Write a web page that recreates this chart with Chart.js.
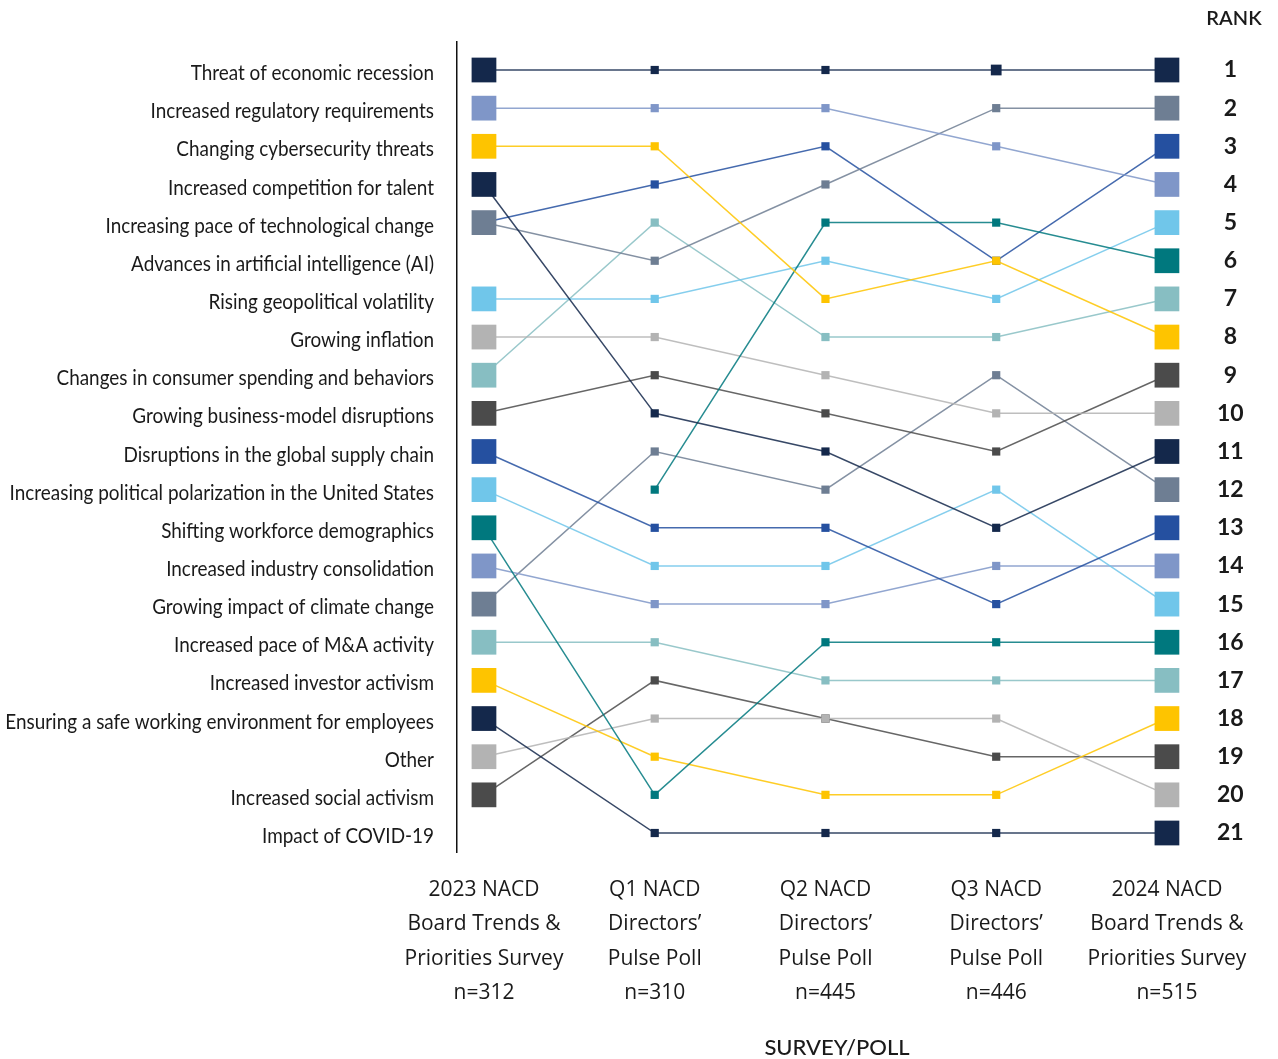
<!DOCTYPE html>
<html>
<head>
<meta charset="utf-8">
<title>Board Trends ranking</title>
<script src="https://cdn.jsdelivr.net/npm/chart.js@4.4.1/dist/chart.umd.min.js"></script>
<style>
  html, body { margin: 0; padding: 0; background: #fff; }
  #wrap { width: 1278px; height: 1059px; position: relative; }
</style>
</head>
<body>
<div id="wrap"><canvas id="rankChart"></canvas></div>
<script>
// rank labels shown on the left (rank 1..21)
const topicLabels = [
    'Threat of economic recession',
    'Increased regulatory requirements',
    'Changing cybersecurity threats',
    'Increased competition for talent',
    'Increasing pace of technological change',
    'Advances in artificial intelligence (AI)',
    'Rising geopolitical volatility',
    'Growing inflation',
    'Changes in consumer spending and behaviors',
    'Growing business-model disruptions',
    'Disruptions in the global supply chain',
    'Increasing political polarization in the United States',
    'Shifting workforce demographics',
    'Increased industry consolidation',
    'Growing impact of climate change',
    'Increased pace of M&A activity',
    'Increased investor activism',
    'Ensuring a safe working environment for employees',
    'Other',
    'Increased social activism',
    'Impact of COVID-19'
];

const surveyLabels = [
    ['2023 NACD', 'Board Trends &', 'Priorities Survey', 'n=312'],
    ['Q1 NACD', 'Directors\u2019', 'Pulse Poll', 'n=310'],
    ['Q2 NACD', 'Directors\u2019', 'Pulse Poll', 'n=445'],
    ['Q3 NACD', 'Directors\u2019', 'Pulse Poll', 'n=446'],
    ['2024 NACD', 'Board Trends &', 'Priorities Survey', 'n=515']
];

const rankTicks = ['1','2','3','4','5','6','7','8','9','10','11','12','13','14','15','16','17','18','19','20','21'];

// one line per topic (last one is the unlabeled dark blue line)
const lineNames = [
    'Threat of economic recession', 'Increased regulatory requirements', 'Changing cybersecurity threats',
    'Increased competition for talent', 'Increasing pace of technological change', 'Advances in artificial intelligence (AI)',
    'Rising geopolitical volatility', 'Growing inflation', 'Changes in consumer spending and behaviors',
    'Growing business-model disruptions', 'Disruptions in the global supply chain',
    'Increasing political polarization in the United States', 'Shifting workforce demographics',
    'Increased industry consolidation', 'Growing impact of climate change', 'Increased pace of M&A activity',
    'Increased investor activism', 'Ensuring a safe working environment for employees', 'Other',
    'Increased social activism', 'Unlabeled'
];
const rank2023 = [1, 2, 3, 4, 5, null, 7, 8, 9, 10, 11, 12, 13, 14, 15, 16, 17, 18, 19, 20, 5];
const rankQ1   = [1, 2, 3, 10, 6, 12, 7, 8, 5, 9, 13, 14, 20, 15, 11, 16, 19, 21, 18, 17, 4];
const rankQ2   = [1, 2, 7, 11, 4, 5, 6, 9, 8, 10, 13, 14, 16, 15, 12, 17, 20, 21, 18, 18, 3];
const rankQ3   = [1, 3, 6, 13, 2, 5, 7, 10, 8, 11, 15, 12, 16, 14, 9, 17, 20, 21, 18, 19, 6];
const rank2024 = [1, 4, 8, 11, 2, 6, 5, 10, 7, 9, 13, 15, 16, 14, 12, 17, 18, 21, 20, 19, 3];

const NAVY = '#14284b', PERI = '#7f96c8', YELLOW = '#fec400', SLATE = '#6e7e93', BLUE = '#2550a0',
      SKY = '#70c6ea', LGRAY = '#b3b3b3', LTEAL = '#87bec2', DGRAY = '#4b4b4b', TEAL = '#00787e';
const lineColors = [NAVY, PERI, YELLOW, NAVY, SLATE, TEAL, SKY, LGRAY, LTEAL, DGRAY, BLUE,
                    SKY, TEAL, PERI, SLATE, LTEAL, YELLOW, NAVY, LGRAY, DGRAY, BLUE];

const allRanks = [rank2023, rankQ1, rankQ2, rankQ3, rank2024];

function fade(hex, a) {
    const n = parseInt(hex.slice(1), 16);
    return `rgba(${n >> 16}, ${(n >> 8) & 255}, ${n & 255}, ${a})`;
}

const datasets = lineNames.map((name, i) => {
    const pts = [];
    allRanks.forEach((col, j) => {
        if (col[i] !== null) pts.push({ x: j, y: col[i] });
    });
    return {
        label: name,
        data: pts,
        borderColor: fade(lineColors[i], 0.85),
        borderWidth: 1.5,
        pointStyle: 'rect',
        pointBackgroundColor: lineColors[i],
        pointBorderWidth: 0,
        pointRadius: function(c) {
            const x = c.raw.x;
            if (i === lineNames.length - 1 && x === 0) return 0;   // hidden under the grey square
            if (x === 0 || x === 4) return 17.5;
            if (i === 0 && x === 3) return 7.6;
            return 5.8;
        },
        clip: false,
        tension: 0
    };
});

// left labels are a condensed face, so squeeze Lato a bit
const extraText = {
    id: 'extraText',
    afterDraw(chart) {
        const c = chart.ctx;
        const yScale = chart.scales.y;
        c.save();
        c.fillStyle = '#1a1a1a';
        c.textAlign = 'right';
        c.textBaseline = 'middle';
        c.font = '22px Lato';
        topicLabels.forEach((label, i) => {
            const py = yScale.getPixelForValue(i + 1) + 3;
            c.save();
            c.translate(434, py);
            c.scale(0.86, 1);
            c.fillText(label, 0, 0);
            c.restore();
        });
        c.textAlign = 'center';
        c.font = '600 20px Lato';
        c.fillText('RANK', 1234, 19);
        c.font = '500 22px Lato';
        c.fillText('SURVEY/POLL', 837, 1048);
        c.restore();
    }
};

new Chart(document.getElementById('rankChart'), {
    type: 'line',
    data: { datasets: datasets },
    options: {
        responsive: true,
        maintainAspectRatio: false,
        animation: false,
        events: [],
        layout: { padding: { top: 42, left: 0, right: 0, bottom: 0 } },
        plugins: {
            legend: { display: false },
            tooltip: { enabled: false }
        },
        scales: {
            x: {
                type: 'linear',
                min: -0.158,
                max: 4.135,
                afterBuildTicks: axis => { axis.ticks = surveyLabels.map((l, i) => ({ value: i })); },
                afterFit: axis => { axis.height = 207; },
                grid: { display: false, drawTicks: false },
                border: { display: false },
                ticks: {
                    callback: (v, idx) => surveyLabels[v],
                    autoSkip: false,
                    maxRotation: 0,
                    minRotation: 0,
                    padding: 21,
                    color: '#1a1a1a',
                    font: { family: "'Open Sans'", size: 21, lineHeight: 1.63 }
                }
            },
            y: {
                type: 'linear',
                position: 'left',
                reverse: true,
                min: 0.266,
                max: 21.498,
                afterBuildTicks: axis => { axis.ticks = topicLabels.map((l, i) => ({ value: i + 1 })); },
                afterFit: axis => { axis.width = 457; },
                grid: { display: false, drawTicks: false },
                border: { display: true, color: '#111', width: 1.5 },
                ticks: { display: false }
            },
            y2: {
                type: 'linear',
                position: 'right',
                reverse: true,
                min: 0.266,
                max: 21.498,
                afterBuildTicks: axis => { axis.ticks = rankTicks.map((l, i) => ({ value: i + 1 })); },
                afterFit: axis => { axis.width = 88; },
                grid: { display: false, drawTicks: false },
                border: { display: false },
                ticks: {
                    callback: v => rankTicks[v - 1],
                    autoSkip: false,
                    crossAlign: 'center',
                    padding: 27,
                    color: '#1a1a1a',
                    font: { family: 'Lato', size: 23, weight: 'bold' }
                }
            }
        }
    },
    plugins: [extraText]
});
</script>
</body>
</html>
